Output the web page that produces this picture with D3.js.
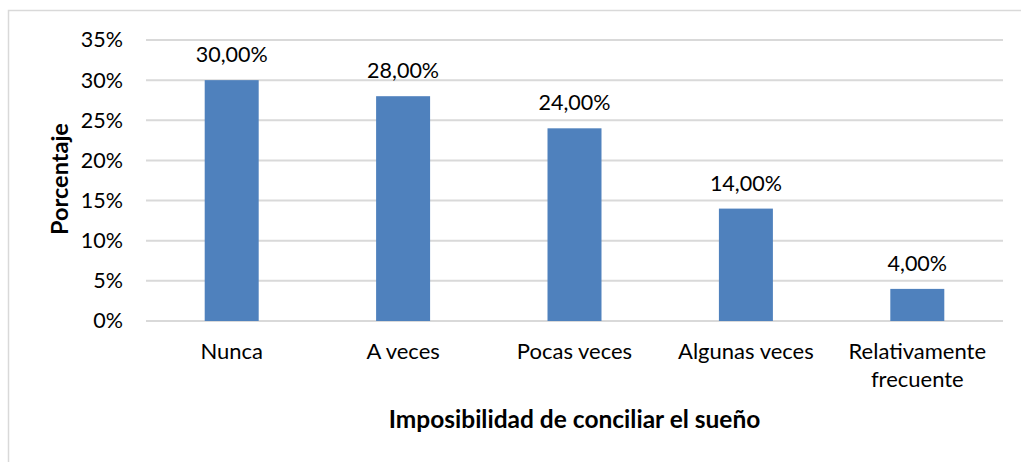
<!DOCTYPE html>
<html>
<head>
<meta charset="utf-8">
<script src="https://cdn.jsdelivr.net/npm/d3@7"></script>
<style>
  html, body { margin: 0; padding: 0; background: #fff; }
  svg { display: block; }
</style>
</head>
<body>
<div id="chart"></div>
<script>
// Imposibilidad de conciliar el sueño — bar chart

var categories = ['Nunca', 'A veces', 'Pocas veces', 'Algunas veces', 'Relativamente\nfrecuente'];
var values     = [30, 28, 24, 14, 4];
var yTicks     = [0, 5, 10, 15, 20, 25, 30, 35];

var W = 1021, H = 462;
var FONT = 'Lato, "Open Sans", sans-serif';
var margin = { top: 40, left: 146, right: 18, bottom: 141 };

var svg = d3.select('#chart').append('svg')
  .attr('width', W).attr('height', H);

// outer chart frame
svg.append('rect')
  .attr('x', 8.5).attr('y', 10.5)
  .attr('width', W + 10).attr('height', H + 10)
  .attr('fill', '#fff').attr('stroke', '#d9d9d9').attr('stroke-width', 1.5);

var x = d3.scaleBand()
  .domain(categories)
  .range([margin.left, W - margin.right])
  .padding(0);

var y = d3.scaleLinear()
  .domain([0, 35])
  .range([H - margin.bottom, margin.top]);

// gridlines
svg.append('g').selectAll('line').data(yTicks).enter().append('line')
  .attr('x1', margin.left).attr('x2', W - margin.right)
  .attr('y1', function(d) { return y(d); })
  .attr('y2', function(d) { return y(d); })
  .attr('stroke', '#d9d9d9').attr('stroke-width', 2);

// y tick labels
var yAxis = d3.axisLeft(y).tickValues(yTicks).tickSize(0).tickPadding(0)
  .tickFormat(function(d) { return d + '%'; });
var yg = svg.append('g').attr('transform', 'translate(' + (margin.left - 23) + ',0)').call(yAxis);
yg.select('.domain').remove();
yg.selectAll('text')
  .attr('font-family', FONT).attr('font-size', '21.5px').attr('fill', '#000');

// bars
var barW = x.bandwidth() * 0.315;
svg.append('g').selectAll('rect').data(values).enter().append('rect')
  .attr('x', function(d, i) { return x(categories[i]) + (x.bandwidth() - barW) / 2; })
  .attr('y', function(d) { return y(d); })
  .attr('width', barW)
  .attr('height', function(d) { return y(0) - y(d); })
  .attr('fill', '#4f81bd');

// data labels
svg.append('g').selectAll('text').data(values).enter().append('text')
  .attr('x', function(d, i) { return x(categories[i]) + x.bandwidth() / 2; })
  .attr('y', function(d) { return y(d) - 18; })
  .attr('text-anchor', 'middle')
  .attr('font-family', FONT).attr('font-size', '21.5px').attr('fill', '#000')
  .text(function(d) { return d.toFixed(2).replace('.', ',') + '%'; });

// category labels (may wrap)
var xl = svg.append('g').selectAll('text').data(categories).enter().append('text')
  .attr('x', function(d) { return x(d) + x.bandwidth() / 2; })
  .attr('y', y(0) + 38)
  .attr('text-anchor', 'middle')
  .attr('font-family', FONT).attr('font-size', '22px').attr('fill', '#000');
xl.each(function(d) {
  var t = d3.select(this);
  d.split('\n').forEach(function(line, i) {
    t.append('tspan')
      .attr('x', t.attr('x'))
      .attr('dy', i === 0 ? 0 : 28)
      .text(line);
  });
});

// axis titles
svg.append('text')
  .attr('x', (margin.left + W - margin.right) / 2)
  .attr('y', 428)
  .attr('text-anchor', 'middle')
  .attr('font-family', FONT).attr('font-size', '24.5px').attr('font-weight', 'bold')
  .attr('fill', '#000')
  .text('Imposibilidad de conciliar el sueño');

svg.append('text')
  .attr('transform', 'translate(68,179) rotate(-90)')
  .attr('text-anchor', 'middle')
  .attr('font-family', FONT).attr('font-size', '23.5px').attr('font-weight', 'bold')
  .attr('fill', '#000')
  .text('Porcentaje');
</script>
</body>
</html>
